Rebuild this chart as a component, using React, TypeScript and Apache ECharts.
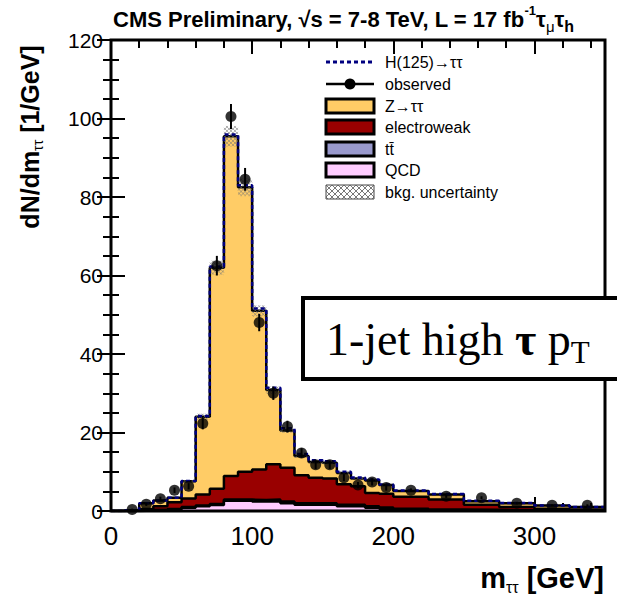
import React, { useEffect, useRef } from "react";
import * as echarts from "echarts";

// ---- data (per-bin densities, 1/GeV) ----
const binEdges = [0, 10, 20, 30, 40, 50, 60, 70, 80, 90, 100, 110, 120, 130, 140, 150, 160, 170, 180, 190, 200, 225, 250, 275, 300, 325, 350];
const qcdValues = [0, 0, 0.1, 0.2, 0.4, 0.8, 1.2, 1.5, 2.6, 2.6, 2.4, 2.5, 2.0, 1.6, 1.6, 1.6, 1.2, 1.2, 0.8, 0.6, 0.3, 0.1, 0, 0, 0, 0];
const ttbarValues = [0, 0, 0, 0.1, 0.1, 0.2, 0.2, 0.3, 0.3, 0.3, 0.4, 0.4, 0.4, 0.4, 0.4, 0.4, 0.4, 0.4, 0.4, 0.3, 0.3, 0.3, 0.3, 0.2, 0.2, 0.1];
const ewkValues = [0, 0.1, 0.4, 0.9, 1.7, 2.2, 2.8, 3.9, 6.0, 7.1, 7.8, 9.0, 8.6, 7.1, 6.5, 6.3, 5.2, 4.7, 3.4, 3.5, 3.0, 2.5, 1.3, 0.8, 0.4, 0.3];
const zttValues = [0, 0.1, 1.5, 1.5, 1.2, 4.4, 19.8, 56.3, 86.6, 72.5, 40.4, 18.9, 9.5, 4.9, 4.0, 4.0, 2.9, 2.0, 3.2, 2.2, 1.5, 1.3, 0.9, 1.0, 0.8, 0.6];
const higgsValues = [0, 0, 0, 0, 0, 0.05, 0.2, 0.3, 0.4, 0.5, 0.6, 0.6, 0.6, 0.5, 0.4, 0.35, 0.3, 0.25, 0.2, 0.15, 0.12, 0.1, 0.08, 0.05, 0.03, 0.02];
const bkgUncertainty = [0, 0, 0.1, 0.1, 0.15, 0.3, 0.8, 1.8, 2.6, 2.2, 1.4, 0.9, 0.6, 0.45, 0.4, 0.4, 0.3, 0.3, 0.25, 0.2, 0.15, 0.12, 0.08, 0.06, 0.05, 0.04];
const observedValues = [null, 0.4, 1.7, 3.1, 5.3, 6.3, 22.3, 62.5, 100.5, 84.5, 48, 30, 21.5, 14.8, 11.8, 11.8, 8.5, 6.6, 7.4, 6.0, 5.3, 3.75, 3.4, 2.0, 1.45, 1.45];
const observedErrors = [0, 0.2, 0.4, 0.55, 0.7, 0.8, 1.5, 2.5, 3.2, 2.9, 2.2, 1.7, 1.5, 1.2, 1.1, 1.1, 0.9, 0.8, 0.9, 0.8, 0.45, 0.4, 0.35, 0.3, 0.25, 0.25];

const legendLabels = ["H(125)\u2192\u03c4\u03c4", "observed", "Z\u2192\u03c4\u03c4", "electroweak", "tt\u0304", "QCD", "bkg. uncertainty"];

const SANS = "'Liberation Sans', Arial, Helvetica, sans-serif";
const SERIF = "'Liberation Serif', 'Times New Roman', serif";

const COL_Z = "#ffcc66";
const COL_EWK = "#990000";
const COL_TT = "#9999cc";
const COL_QCD = "#ffccff";
const COL_H = "#000080";

const nBins = binEdges.length - 1;
const cumulative = (arrs: number[][]) =>
  Array.from({ length: nBins }, (_, i) => arrs.reduce((s, a) => s + a[i], 0));
const qcdTop = cumulative([qcdValues]);
const ttTop = cumulative([qcdValues, ttbarValues]);
const ewkTop = cumulative([qcdValues, ttbarValues, ewkValues]);
const zTop = cumulative([qcdValues, ttbarValues, ewkValues, zttValues]);
const hTop = cumulative([qcdValues, ttbarValues, ewkValues, zttValues, higgsValues]);

const stepData = (tops: number[]) => [
  ...binEdges.slice(0, nBins).map((e, i) => [e, tops[i]]),
  [binEdges[nBins], tops[nBins - 1]],
];

function hatchLines(rx: number, ry: number, w: number, h: number, s: number, stroke: string, lw: number) {
  const children: any[] = [];
  for (let c = ry - (rx + w); c <= ry + h - rx; c += s) {
    const xa = Math.max(rx, ry - c);
    const xb = Math.min(rx + w, ry + h - c);
    if (xb > xa) children.push({ type: "line", shape: { x1: xa, y1: xa + c, x2: xb, y2: xb + c }, style: { stroke, lineWidth: lw } });
  }
  for (let c = ry + rx; c <= ry + h + rx + w; c += s) {
    const xa = Math.max(rx, c - ry - h);
    const xb = Math.min(rx + w, c - ry);
    if (xb > xa) children.push({ type: "line", shape: { x1: xa, y1: c - xa, x2: xb, y2: c - xb }, style: { stroke, lineWidth: lw } });
  }
  return children;
}

export default function App() {
  const ref = useRef<HTMLDivElement>(null);
  useEffect(() => {
    document.body.style.margin = "0";
    if (!ref.current) return;
    const chart = echarts.init(ref.current, null, { renderer: "svg" });

    const area = (name: string, tops: number[], color: string, z: number) => ({
      type: "line",
      name,
      data: stepData(tops),
      step: "end",
      symbol: "none",
      showSymbol: false,
      clip: true,
      silent: true,
      z,
      lineStyle: { color: "#000", width: 2.5 },
      areaStyle: { color, opacity: 1 },
    });

    const tickStyle = { color: "#000", width: 2 };
    const xBase = { type: "value", min: 0, max: 350, axisLine: { show: false }, splitLine: { show: false } };
    const yBase = { type: "value", min: 0, max: 120, interval: 20, axisLine: { show: false }, splitLine: { show: false } };

    const legendX = 326;
    const legendRows = [62, 84, 106, 127, 149, 170, 192];
    const legendGraphics: any[] = [];
    legendRows.forEach((y, i) => {
      legendGraphics.push({
        type: "text",
        x: 385,
        y,
        style: { text: legendLabels[i], font: `16px ${SANS}`, fill: "#000", verticalAlign: "middle", align: "left" },
      });
    });
    legendGraphics.push({ type: "line", shape: { x1: legendX, y1: legendRows[0], x2: legendX + 48, y2: legendRows[0] }, style: { stroke: COL_H, lineWidth: 3, lineDash: [4, 3] } });
    legendGraphics.push({ type: "line", shape: { x1: legendX, y1: legendRows[1], x2: legendX + 48, y2: legendRows[1] }, style: { stroke: "#000", lineWidth: 2.5 } });
    legendGraphics.push({ type: "circle", shape: { cx: legendX + 24, cy: legendRows[1], r: 5.5 }, style: { fill: "#000" } });
    [COL_Z, COL_EWK, COL_TT, COL_QCD].forEach((c, k) => {
      legendGraphics.push({ type: "rect", shape: { x: legendX, y: legendRows[k + 2] - 7, width: 48, height: 14 }, style: { fill: c, stroke: "#000", lineWidth: 3 } });
    });
    legendGraphics.push({
      type: "group",
      children: [
        { type: "rect", shape: { x: legendX, y: legendRows[6] - 7, width: 48, height: 14 }, style: { fill: "#fff", stroke: "#444", lineWidth: 1 } },
        ...hatchLines(legendX, legendRows[6] - 7, 48, 14, 6, "#555", 0.8),
      ],
    });

    chart.setOption({
      animation: false,
      grid: { left: 111, right: 12, top: 40, bottom: 85 },
      xAxis: [
        { ...xBase, position: "bottom", interval: 100, axisTick: { inside: true, length: 14, lineStyle: tickStyle }, axisLabel: { fontSize: 26, color: "#000", margin: 12, fontFamily: SANS, showMaxLabel: false } },
        { ...xBase, position: "bottom", interval: 20, axisTick: { inside: true, length: 8, lineStyle: tickStyle }, axisLabel: { show: false } },
        { ...xBase, position: "top", interval: 100, axisTick: { inside: true, length: 14, lineStyle: tickStyle }, axisLabel: { show: false } },
        { ...xBase, position: "top", interval: 20, axisTick: { inside: true, length: 8, lineStyle: tickStyle }, axisLabel: { show: false } },
      ],
      yAxis: [
        { ...yBase, position: "left", axisTick: { inside: true, length: 14, lineStyle: tickStyle }, minorTick: { show: true, splitNumber: 4, length: 8, lineStyle: tickStyle }, axisLabel: { fontSize: 21, color: "#000", margin: 8, fontFamily: SANS } },
        { ...yBase, position: "right", axisTick: { inside: true, length: 14, lineStyle: tickStyle }, minorTick: { show: true, splitNumber: 4, length: 8, lineStyle: tickStyle }, axisLabel: { show: false } },
      ],
      series: [
        area("Z\u2192\u03c4\u03c4", zTop, COL_Z, 2),
        area("electroweak", ewkTop, COL_EWK, 3),
        area("ttbar", ttTop, COL_TT, 4),
        area("QCD", qcdTop, COL_QCD, 5),
        {
          type: "custom",
          name: "bkg. uncertainty",
          z: 6,
          clip: true,
          silent: true,
          data: binEdges.slice(0, nBins).map((e, i) => [e, binEdges[i + 1], zTop[i] - bkgUncertainty[i], zTop[i] + bkgUncertainty[i]]),
          encode: { x: [0, 1], y: [2, 3] },
          renderItem: (params: any, api: any) => {
            const a = api.coord([api.value(0), api.value(3)]);
            const b = api.coord([api.value(1), api.value(2)]);
            const h = b[1] - a[1];
            if (h < 1.5) return null;
            return { type: "group", children: hatchLines(a[0], a[1], b[0] - a[0], h, 4, "#777", 0.6) };
          },
        },
        {
          type: "line",
          name: "H(125)",
          data: stepData(hTop),
          step: "end",
          symbol: "none",
          showSymbol: false,
          clip: true,
          silent: true,
          z: 7,
          lineStyle: { color: COL_H, width: 2.5, type: [4, 3] },
        },
        {
          type: "custom",
          name: "observed errors",
          z: 8,
          clip: true,
          silent: true,
          data: observedValues
            .map((v, i) => (v === null ? null : [(binEdges[i] + binEdges[i + 1]) / 2, v, observedErrors[i]]))
            .filter((d) => d !== null),
          encode: { x: 0, y: 1 },
          renderItem: (params: any, api: any) => {
            const x = api.value(0), y = api.value(1), e = api.value(2);
            const a = api.coord([x, y - e]);
            const b = api.coord([x, y + e]);
            return { type: "line", shape: { x1: a[0], y1: a[1], x2: b[0], y2: b[1] }, style: { stroke: "#000", lineWidth: 2 } };
          },
        },
        {
          type: "scatter",
          name: "observed",
          z: 9,
          silent: true,
          symbol: "circle",
          symbolSize: 11,
          itemStyle: { color: "#000" },
          data: observedValues
            .map((v, i) => (v === null ? null : [(binEdges[i] + binEdges[i + 1]) / 2, v]))
            .filter((d) => d !== null),
        },
      ],
      graphic: [
        { type: "rect", z: 100, silent: true, shape: { x: 111, y: 40, width: 494, height: 471 }, style: { fill: "none", stroke: "#000", lineWidth: 3 } },
        ...legendGraphics.map((g) => ({ ...g, z: 101, silent: true })),
        {
          type: "text",
          z: 101,
          x: 113,
          y: 19,
          style: {
            text: "{b|CMS Preliminary, \u221as = 7-8 TeV, L = 17 fb}{sup|-1}{b|\u03c4}{sub|\u03bc}{b|\u03c4}{subb|h}",
            verticalAlign: "middle",
            rich: {
              b: { font: `bold 22px ${SANS}`, fill: "#000", lineHeight: 30, verticalAlign: "middle" },
              sup: { font: `bold 13px ${SANS}`, fill: "#000", verticalAlign: "top", lineHeight: 30 },
              sub: { font: `15px ${SANS}`, fill: "#000", verticalAlign: "bottom", lineHeight: 30 },
              subb: { font: `bold 16px ${SANS}`, fill: "#000", verticalAlign: "bottom", lineHeight: 30 },
            },
          },
        },
        {
          type: "text",
          z: 101,
          x: 30,
          y: 137,
          rotation: Math.PI / 2,
          style: {
            text: "{b|dN/dm}{s|\u03c4\u03c4}{b| [1/GeV]}",
            align: "center",
            verticalAlign: "middle",
            rich: {
              b: { font: `bold 25px ${SANS}`, fill: "#000", lineHeight: 30, verticalAlign: "middle" },
              s: { font: `14px ${SANS}`, fill: "#000", lineHeight: 30, verticalAlign: "bottom" },
            },
          },
        },
        {
          type: "text",
          z: 101,
          x: 604,
          y: 578,
          style: {
            text: "{b|m}{s|\u03c4\u03c4}{b| [GeV]}",
            align: "right",
            verticalAlign: "middle",
            rich: {
              b: { font: `bold 29px ${SANS}`, fill: "#000", lineHeight: 34, verticalAlign: "middle" },
              s: { font: `16px ${SANS}`, fill: "#000", lineHeight: 34, verticalAlign: "bottom" },
            },
          },
        },
        { type: "rect", z: 110, silent: true, shape: { x: 303, y: 298, width: 330, height: 81 }, style: { fill: "#fff", stroke: "#000", lineWidth: 4 } },
        {
          type: "text",
          z: 111,
          x: 326,
          y: 339,
          style: {
            text: "{n|1-jet high }{bt|\u03c4}{n| p}{s|T}",
            verticalAlign: "middle",
            rich: {
              n: { font: `46px ${SERIF}`, fill: "#000", lineHeight: 58, verticalAlign: "middle" },
              bt: { font: `bold 46px ${SERIF}`, fill: "#000", lineHeight: 58, verticalAlign: "middle" },
              s: { font: `31px ${SERIF}`, fill: "#000", lineHeight: 58, verticalAlign: "bottom" },
            },
          },
        },
      ],
    });
    return () => chart.dispose();
  }, []);
  return <div ref={ref} style={{ width: 617, height: 596 }} />;
}
